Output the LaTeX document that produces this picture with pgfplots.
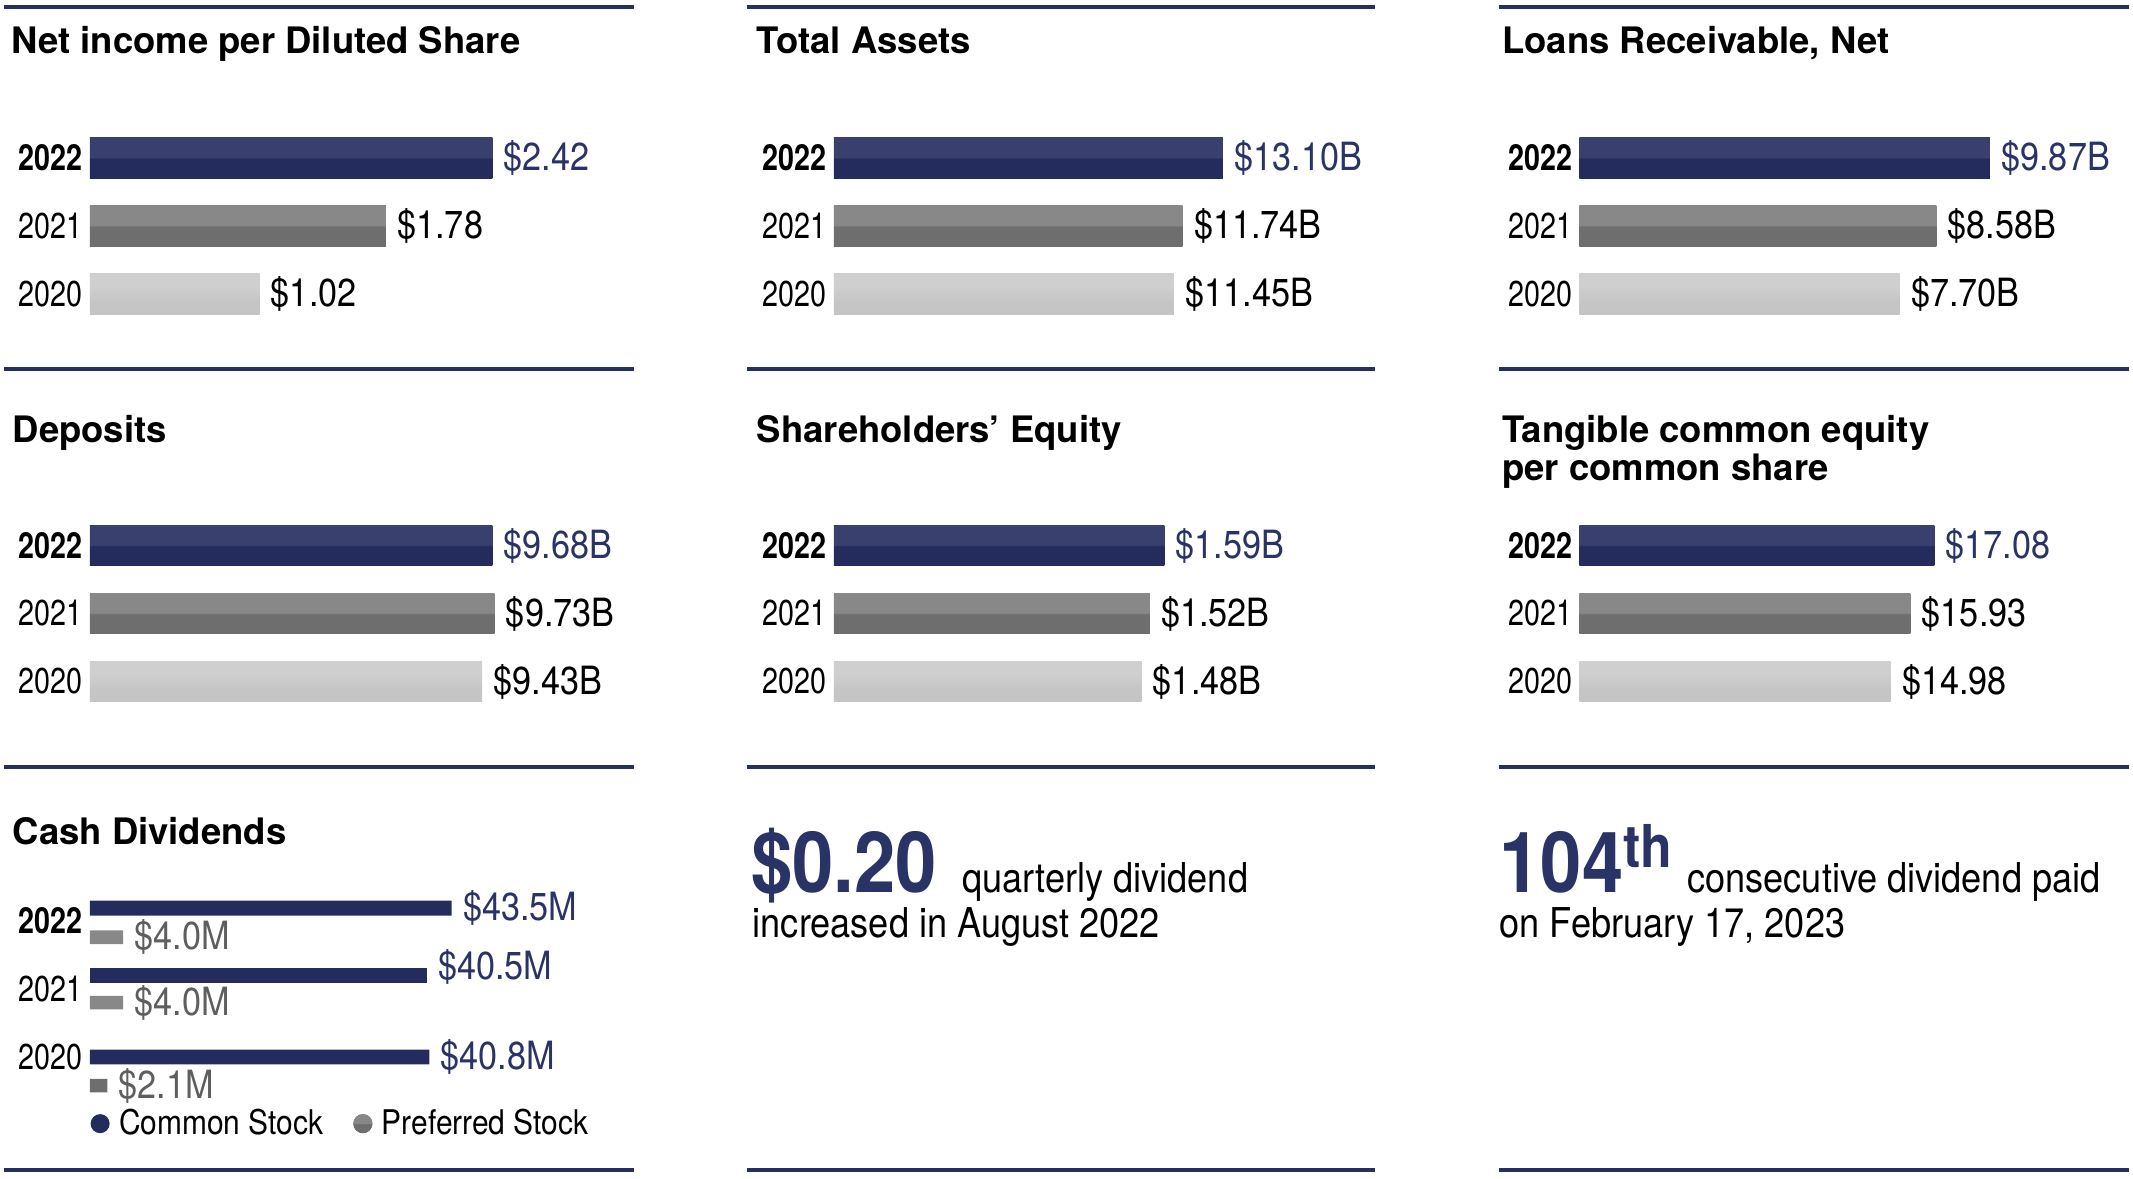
\documentclass[border=0pt]{standalone}
\usepackage{fontspec}
\setmainfont{TeX Gyre Heros}
\newfontfamily\condfont[FakeStretch=0.88]{TeX Gyre Heros}
\newfontfamily\yearfont[FakeStretch=0.8]{TeX Gyre Heros}
\usepackage{pgfplots}
\pgfplotsset{compat=1.18}

\definecolor{navy}{HTML}{262F62}
\definecolor{navyT}{HTML}{3A406E}
\definecolor{navyB}{HTML}{232C5D}
\definecolor{navyTxt}{HTML}{2A3366}
\definecolor{grayT}{HTML}{888888}
\definecolor{grayB}{HTML}{6E6E6E}
\definecolor{lightT}{HTML}{CFCFCF}
\definecolor{lightB}{HTML}{C5C5C5}
\definecolor{prefTxt}{HTML}{5E5E5E}
\definecolor{prefDot}{HTML}{5A5A5A}

% two-tone bar fills: lighter upper half, darker lower half
\pgfdeclareverticalshading{navybar}{100bp}{color(0bp)=(navyB); color(49bp)=(navyB); color(51bp)=(navyT); color(100bp)=(navyT)}
\pgfdeclareverticalshading{graybar}{100bp}{color(0bp)=(grayB); color(49bp)=(grayB); color(51bp)=(grayT); color(100bp)=(grayT)}
\pgfdeclareverticalshading{lightbar}{100bp}{color(0bp)=(lightB); color(40bp)=(lightB); color(60bp)=(lightT); color(100bp)=(lightT)}

\newcommand\valsize{\condfont\fontsize{14.3}{16}\selectfont}
\newcommand\subsize{\condfont\fontsize{15.1}{18}\selectfont}
\newcommand\bigsize{\condfont\fontsize{31}{34}\selectfont\bfseries}
\newcommand\titlefont{\fontsize{13.4}{16}\selectfont\bfseries}

\pgfplotsset{
  panel/.style={scale only axis, width=200pt, height=75pt, anchor=north west,
    y dir=reverse, xmin=0, axis line style={draw=none}, major tick length=0pt,
    tick style={draw=none}, xtick=\empty, clip=false,
    yticklabel style={font=\yearfont\fontsize{13.2}{15}\selectfont, inner sep=0pt, xshift=-2.5pt}},
  lab/.style n args={3}{point meta=x,
    nodes near coords={\$\pgfmathprintnumber[fixed,fixed zerofill,precision=#1,assume math mode=true]{\pgfplotspointmeta}#2},
    every node near coord/.append style={text=#3, font=\valsize, anchor=west, inner sep=0pt, xshift=4pt}},
  hbar/.style={xbar, bar shift=0pt, bar width=15pt, draw=none},
  b22/.style={hbar, shade, shading=navybar},
  b21/.style={hbar, shade, shading=graybar},
  b20/.style={hbar, shade, shading=lightbar},
}

\begin{document}
\begin{tikzpicture}
\path[use as bounding box] (0,0) rectangle (784pt,-433pt);

% Net income per diluted share
\begin{axis}[panel, at={(33pt,-45pt)}, xmax=3.27, ymin=90, ymax=240,
  ytick={116,166,216}, yticklabels={\bfseries 2022,2021,2020}]
\addplot[b22, lab={2}{}{navyTxt}] coordinates {(2.42,116)};
\addplot[b21, lab={2}{}{black}] coordinates {(1.78,166)};
\addplot[b20, lab={2}{}{black}] coordinates {(1.02,216)};
\end{axis}

% Total assets
\begin{axis}[panel, at={(306.5pt,-45pt)}, xmax=18.32, ymin=90, ymax=240,
  ytick={116,166,216}, yticklabels={\bfseries 2022,2021,2020}]
\addplot[b22, lab={2}{B}{navyTxt}] coordinates {(13.10,116)};
\addplot[b21, lab={2}{B}{black}] coordinates {(11.74,166)};
\addplot[b20, lab={2}{B}{black}] coordinates {(11.45,216)};
\end{axis}

% Loans receivable
\begin{axis}[panel, at={(580.5pt,-45pt)}, xmax=13.08, ymin=90, ymax=240,
  ytick={116,166,216}, yticklabels={\bfseries 2022,2021,2020}]
\addplot[b22, lab={2}{B}{navyTxt}] coordinates {(9.87,116)};
\addplot[b21, lab={2}{B}{black}] coordinates {(8.58,166)};
\addplot[b20, lab={2}{B}{black}] coordinates {(7.70,216)};
\end{axis}

% Deposits
\begin{axis}[panel, at={(33pt,-187.5pt)}, xmax=13.08, ymin=375, ymax=525,
  ytick={401,451,501}, yticklabels={\bfseries 2022,2021,2020}]
\addplot[b22, lab={2}{B}{navyTxt}] coordinates {(9.68,401)};
\addplot[b21, lab={2}{B}{black}] coordinates {(9.73,451)};
\addplot[b20, lab={2}{B}{black}] coordinates {(9.43,501)};
\end{axis}

% Shareholders' equity
\begin{axis}[panel, at={(306.5pt,-187.5pt)}, xmax=2.618, ymin=375, ymax=525,
  ytick={401,451,501}, yticklabels={\bfseries 2022,2021,2020}]
\addplot[b22, lab={2}{B}{navyTxt}] coordinates {(1.59,401)};
\addplot[b21, lab={2}{B}{black}] coordinates {(1.52,451)};
\addplot[b20, lab={2}{B}{black}] coordinates {(1.48,501)};
\end{axis}

% Tangible common equity per share
\begin{axis}[panel, at={(580.5pt,-187.5pt)}, xmax=26.18, ymin=375, ymax=525,
  ytick={401,451,501}, yticklabels={\bfseries 2022,2021,2020}]
\addplot[b22, lab={2}{}{navyTxt}] coordinates {(17.08,401)};
\addplot[b21, lab={2}{}{black}] coordinates {(15.93,451)};
\addplot[b20, lab={2}{}{black}] coordinates {(14.98,501)};
\end{axis}

% Cash dividends
\begin{axis}[panel, height=97.5pt, at={(33pt,-325pt)}, xmax=65.4, ymin=650, ymax=845,
  ytick={677,727,777}, yticklabels={\bfseries 2022,2021,2020},
  legend style={at={(axis cs:0.1,826)}, anchor=west, draw=none, fill=none,
    inner sep=0pt, outer sep=0pt,
    legend columns=2, font=\condfont\fontsize{12.5}{14}\selectfont,
    nodes={inner sep=0pt},
    /tikz/every odd column/.append style={column sep=3.5pt},
    /tikz/every even column/.append style={column sep=11pt}}]
\addplot[xbar, bar shift=0pt, bar width=5.5pt, draw=none, fill=navyB, lab={1}{M}{navyTxt},
  legend image code/.code={\fill[navyB] (0pt,0pt) circle (3.5pt);}]
  coordinates {(43.5,667.5) (40.8,777)};
\addlegendentry{Common Stock}
\addplot[xbar, bar shift=0pt, bar width=5pt, draw=none, shade, shading=graybar,
  lab={1}{M}{prefTxt},
  legend image code/.code={\fill[prefDot] (0pt,0pt) circle (3.5pt);}]
  coordinates {(4.0,689) (4.0,737) (2.1,798)};
\addlegendentry{Preferred Stock}
\addplot[forget plot, xbar, bar shift=0pt, bar width=5.5pt, draw=none, fill=navyB, lab={1}{M}{navyTxt},
  every node near coord/.append style={yshift=3pt}]
  coordinates {(40.5,717)};
\end{axis}

\begin{scope}[x=0.5pt,y=-0.5pt]
\foreach \y in {5,271,564,860}{
  \foreach \a/\b in {3/466,549/1011,1102/1565}{
    \draw[navy, line width=1.5pt] (\a,\y) -- (\b,\y);
  }
}
\node[anchor=base west, inner sep=0pt, font=\titlefont] at (8,39) {Net income per Diluted Share};
\node[anchor=base west, inner sep=0pt, font=\titlefont] at (556,39) {Total Assets};
\node[anchor=base west, inner sep=0pt, font=\titlefont] at (1104,39) {Loans Receivable, Net};
\node[anchor=base west, inner sep=0pt, font=\titlefont] at (9,325) {Deposits};
\node[anchor=base west, inner sep=0pt, font=\titlefont] at (556,325) {Shareholders’ Equity};
\node[anchor=base west, inner sep=0pt, font=\titlefont] at (1104,325) {Tangible common equity};
\node[anchor=base west, inner sep=0pt, font=\titlefont] at (1104,353) {per common share};
\node[anchor=base west, inner sep=0pt, font=\titlefont] at (9,621) {Cash Dividends};

\node[anchor=base west, inner sep=0pt, text=navyTxt, font=\bigsize] at (552,656) {\$0.20};
\node[anchor=base west, inner sep=0pt, font=\subsize] at (707,656) {quarterly dividend};
\node[anchor=base west, inner sep=0pt, font=\subsize] at (553,689) {increased in August 2022};
\node[anchor=base west, inner sep=0pt, text=navyTxt, font=\bigsize] at (1102,656) {104\textsuperscript{th}};
\node[anchor=base west, inner sep=0pt, font=\subsize] at (1240,656) {consecutive dividend paid};
\node[anchor=base west, inner sep=0pt, font=\subsize] at (1102,689) {on February 17, 2023};
\end{scope}
\end{tikzpicture}
\end{document}
